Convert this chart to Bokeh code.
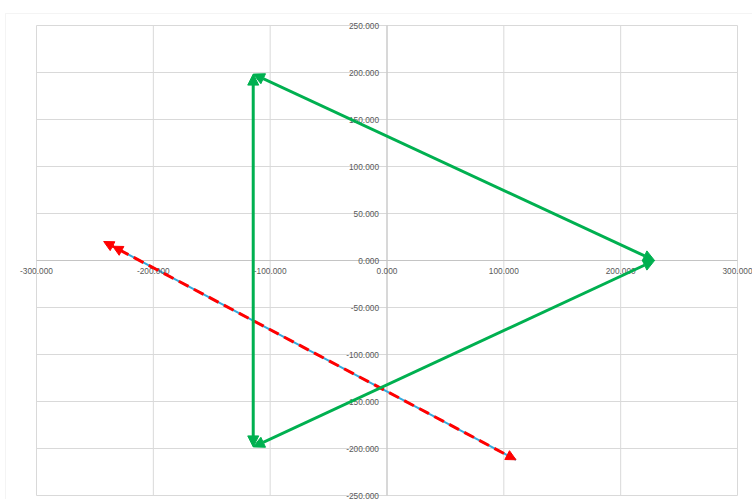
from bokeh.plotting import figure
from bokeh.models import (Range1d, FixedTicker, NumeralTickFormatter, Arrow, NormalHead,
                          ColumnDataSource, BoxAnnotation)
from bokeh.embed import file_html
from bokeh.resources import INLINE

# axis ticks
x_ticks = [-300, -200, -100, 0, 100, 200, 300]
y_ticks = [-250, -200, -150, -100, -50, 0, 50, 100, 150, 200, 250]

# triangle edges (start -> end)
tri_x_start = [-114.5, 229.0, -114.5]
tri_y_start = [198.3, 0.0, -198.3]
tri_x_end = [229.0, -114.5, -114.5]
tri_y_end = [0.0, -198.3, 198.3]

# red dashed vector
red_x = [-242.5, 110.4]
red_y = [20.2, -212.0]

# blue vector underneath
blue_x = [-234.8, 110.4]
blue_y = [15.2, -212.0]

GREEN = "#00B050"
RED = "#FF0000"
BLUE = "#33A9DC"
GRID = "#d9d9d9"
AXIS = "#c4c4c4"
LABEL = "#595959"

W, H = 752, 499
# plot area in canvas pixels
PL, PR, PT, PB = 36, 737, 25, 495
xmin, xmax = min(x_ticks), max(x_ticks)
ymin, ymax = min(y_ticks), max(y_ticks)
sx = (PR - PL) / (xmax - xmin)
sy = (PB - PT) / (ymax - ymin)

# the frame covers the whole canvas so tick labels at the edges are not clipped
p = figure(width=W, height=H, output_backend="svg", toolbar_location=None,
           x_range=Range1d(xmin - PL / sx, xmax + (W - PR) / sx),
           y_range=Range1d(ymin - (H - PB) / sy, ymax + PT / sy),
           min_border=0, title=None)
p.background_fill_color = "white"
p.border_fill_color = "white"
p.outline_line_color = None
p.xgrid.visible = False
p.ygrid.visible = False

# gridlines limited to the plot area
p.segment(x0=x_ticks, x1=x_ticks, y0=[ymin] * len(x_ticks), y1=[ymax] * len(x_ticks),
          line_color=GRID, line_width=1, level="underlay")
p.segment(x0=[xmin] * len(y_ticks), x1=[xmax] * len(y_ticks), y0=y_ticks, y1=y_ticks,
          line_color=GRID, line_width=1, level="underlay")
# axis lines through the origin
p.segment(x0=[xmin, 0], x1=[xmax, 0], y0=[0, ymin], y1=[0, ymax],
          line_color=AXIS, line_width=1, level="underlay")

for ax, ticks in ((p.xaxis[0], x_ticks), (p.yaxis[0], y_ticks)):
    ax.fixed_location = 0
    ax.bounds = (min(ticks), max(ticks))
    ax.ticker = FixedTicker(ticks=ticks)
    ax.formatter = NumeralTickFormatter(format="0.000")
    ax.axis_line_color = None
    ax.major_tick_line_color = None
    ax.minor_tick_line_color = None
    ax.major_tick_out = 0
    ax.major_tick_in = 0
    ax.minor_tick_out = 0
    ax.major_label_text_font = "Liberation Sans"
    ax.major_label_text_font_size = "8.3px"
    ax.major_label_text_color = LABEL
p.xaxis.major_label_standoff = 7
p.yaxis.major_label_standoff = 8

# outer chart-area border
p.add_layout(BoxAnnotation(left=5, top=13, right=W + 20, bottom=H + 20,
                           left_units="canvas", right_units="canvas",
                           top_units="canvas", bottom_units="canvas",
                           fill_alpha=0, line_color=GRID, line_width=1))

# blue line
p.line(blue_x, blue_y, line_color=BLUE, line_width=2)

# red dashed vector with heads
red_src = ColumnDataSource(dict(x0=[red_x[0]], y0=[red_y[0]], x1=[red_x[1]], y1=[red_y[1]]))
p.add_layout(Arrow(x_start="x0", y_start="y0", x_end="x1", y_end="y1", source=red_src,
                   line_color=RED, line_width=3, line_dash="11 6",
                   start=NormalHead(size=10, fill_color=RED, line_color=RED, line_width=1),
                   end=NormalHead(size=10, fill_color=RED, line_color=RED, line_width=1)))
blue_src = ColumnDataSource(dict(x0=[blue_x[0]], y0=[blue_y[0]], x1=[blue_x[1]], y1=[blue_y[1]]))
p.add_layout(Arrow(x_start="x0", y_start="y0", x_end="x1", y_end="y1", source=blue_src,
                   line_alpha=0,
                   start=NormalHead(size=10, fill_color=RED, line_color=RED, line_width=1),
                   end=None))

# triangle with arrowheads on every edge
tri_src = ColumnDataSource(dict(x0=tri_x_start, y0=tri_y_start, x1=tri_x_end, y1=tri_y_end))
p.add_layout(Arrow(x_start="x0", y_start="y0", x_end="x1", y_end="y1", source=tri_src,
                   line_color=GREEN, line_width=3,
                   start=NormalHead(size=11, fill_color=GREEN, line_color=GREEN, line_width=1),
                   end=NormalHead(size=11, fill_color=GREEN, line_color=GREEN, line_width=1)))

open("out.html", "w").write(file_html(p, INLINE))
